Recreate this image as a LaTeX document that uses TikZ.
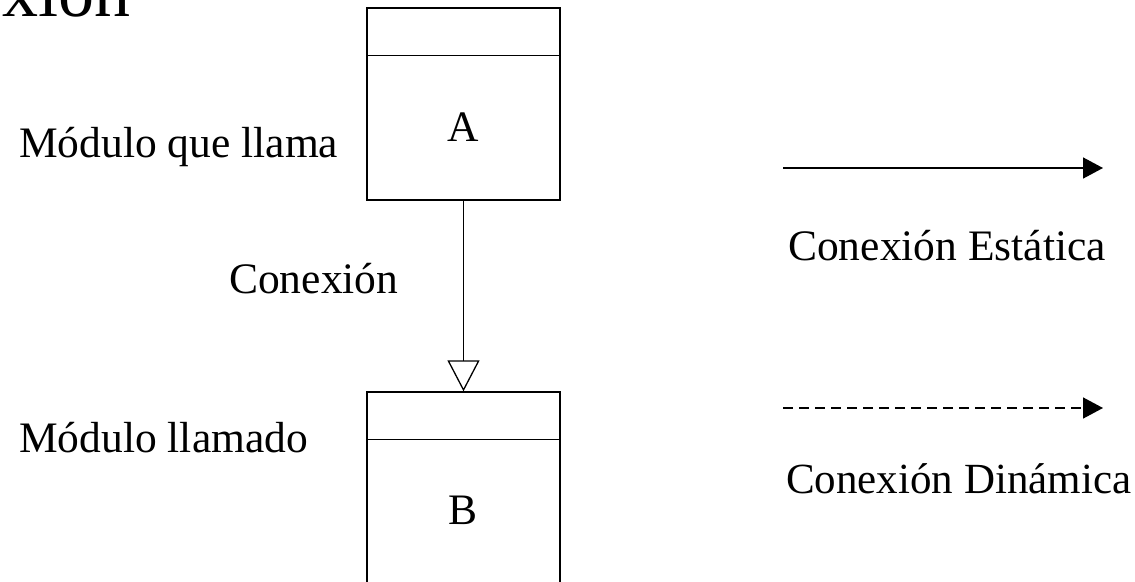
\documentclass[tikz,border=0pt]{standalone}
\usepackage{fontspec}
\setmainfont{Liberation Serif}
\usetikzlibrary{arrows.meta}
\begin{document}
\begin{tikzpicture}[x=1pt,y=-1pt,
  lbl/.style={font=\fontsize{43.5}{50}\selectfont, inner sep=0pt},
  modbox/.style={draw, line width=1.3pt, minimum width=193pt, inner sep=0pt},
  conn/.style={line width=1.3pt},
  legarrow/.style={line width=1.5pt, -{Triangle[length=20pt,width=21pt]}},
  legdash/.style={legarrow, dash pattern=on 10pt off 6pt}]
\useasboundingbox (0,0) rectangle (1135,581);
% title (cut off at top)
\node[font=\fontsize{72}{76}\selectfont, inner sep=0pt, anchor=base west] (title) at (-150,16) {Conexión};
% module A
\node[modbox, minimum height=192pt] (A) at (463.5,104) {};
\draw[conn] ([yshift=-48pt]A.north west) -- ([yshift=-48pt]A.north east);
\node[lbl, anchor=base] (Alabel) at (463.5,141) {A};
% module B (continues below the frame)
\node[modbox, minimum height=220pt] (B) at (463.5,502) {};
\draw[conn] ([yshift=-48pt]B.north west) -- ([yshift=-48pt]B.north east);
\node[lbl, anchor=base] (Blabel) at (463.5,524) {B};
% connection
\draw[conn, -{Triangle[open,length=31pt,width=32pt,line width=1.3pt]}] (A.south) -- (B.north);
% labels
\node[lbl, anchor=base west] (llama) at (19,157) {Módulo que llama};
\node[lbl, anchor=base west] (llamado) at (19,452) {Módulo llamado};
\node[lbl, anchor=base west] (conex) at (229,293) {Conexión};
% legend
\coordinate (s1) at (783,168);
\coordinate (s2) at (1103,168);
\draw[legarrow] (s1) -- (s2);
\node[lbl, anchor=base west] (estatica) at (788,260) {Conexión Estática};
\coordinate (d1) at (783,408);
\coordinate (d2) at (1103,408);
\draw[legdash] (d1) -- (d2);
\node[lbl, anchor=base west, font=\fontsize{43}{50}\selectfont] (dinamica) at (786,493) {Conexión Dinámica};
\end{tikzpicture}
\end{document}
